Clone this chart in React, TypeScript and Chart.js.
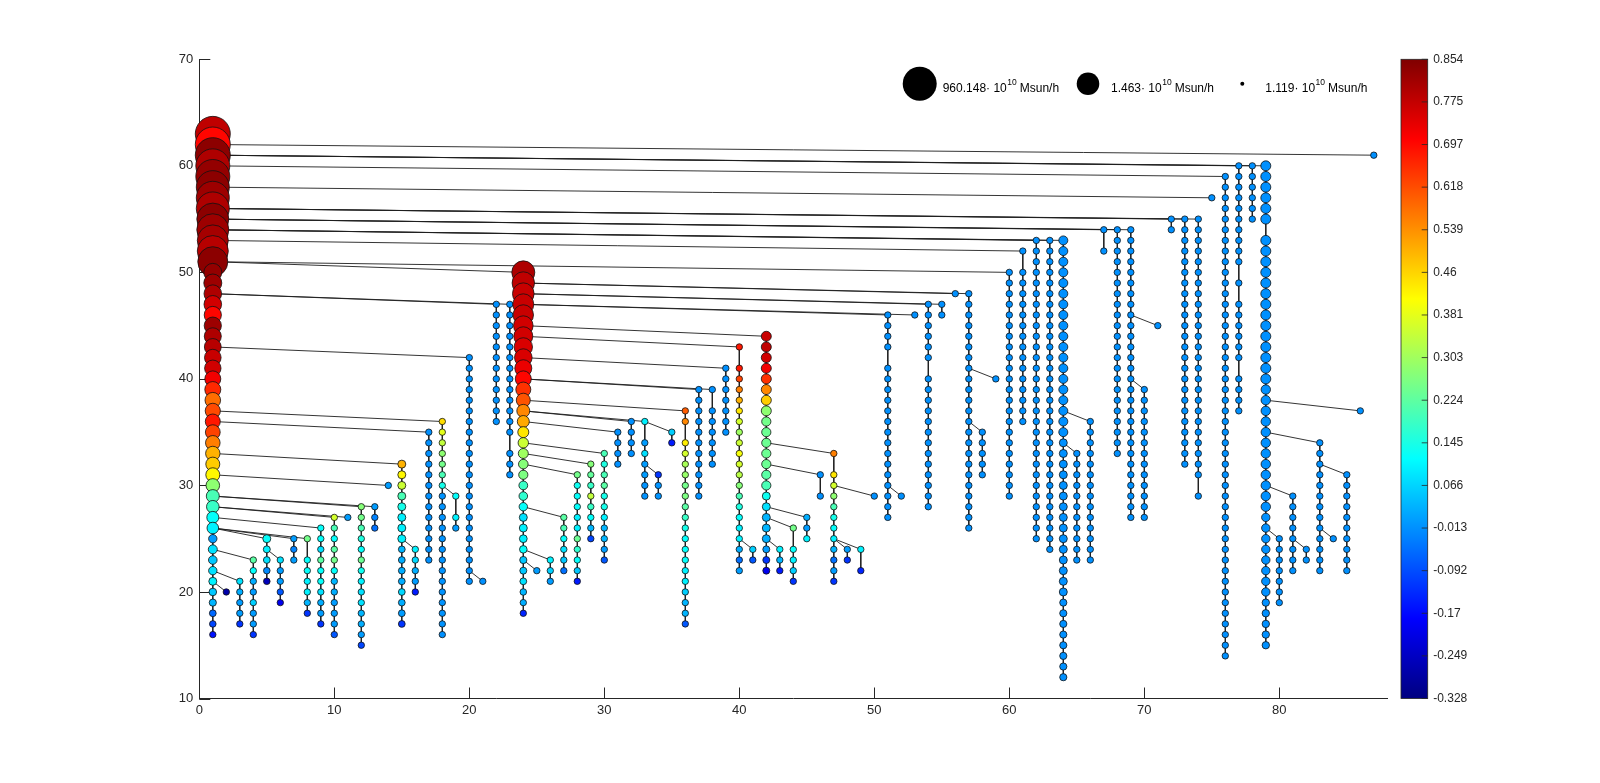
import React, { useEffect, useRef } from 'react';
import { Chart, registerables } from 'chart.js';

Chart.register(...registerables);

// ---------------- DATA ----------------
// Each branch of the merger tree sits in its own column (branch index on x),
// nodes are snapshots (y). Each branch merges into its descendant branch at top+1.
const branchX = [
  1, 2, 3, 4, 5, 6, 7, 8, 9, 10, 11, 12, 13, 14, 15, 16, 17, 18, 19, 20,
  21, 22, 23, 24, 25, 26, 27, 28, 29, 30, 31, 32, 33, 34, 35, 36, 37, 38, 39, 40,
  41, 42, 43, 44, 45, 46, 47, 48, 49, 50, 51, 52, 53, 54, 55, 56, 57, 58, 59, 60,
  61, 62, 63, 64, 65, 66, 67, 68, 69, 70, 71, 72, 73, 74, 75, 76, 77, 78, 79, 80,
  81, 82, 83, 84, 85, 86, 87,
];
const branchTop = [
  63, 20, 21, 23, 25, 23, 25, 25, 26, 27, 27, 28, 28, 30, 32, 24, 35, 36, 29, 42,
  21, 47, 47, 50, 22, 23, 27, 31, 32, 33, 35, 36, 36, 31, 35, 37, 39, 39, 41, 43,
  24, 44, 24, 26, 27, 31, 33, 24, 24, 29, 46, 29, 46, 47, 47, 48, 48, 35, 40, 50,
  52, 53, 53, 53, 33, 36, 54, 54, 54, 39, 45, 55, 55, 55, 57, 59, 60, 60, 60, 25,
  29, 24, 34, 25, 31, 37, 61,
];
const branchBottom = [
  16, 20, 17, 16, 21, 19, 23, 18, 17, 16, 27, 15, 26, 30, 17, 20, 23, 16, 26, 21,
  21, 36, 31, 18, 22, 21, 22, 21, 25, 23, 32, 33, 29, 29, 34, 17, 29, 32, 35, 22,
  23, 22, 22, 21, 25, 29, 21, 23, 22, 29, 27, 29, 46, 28, 46, 48, 26, 31, 40, 29,
  36, 25, 24, 12, 23, 23, 52, 33, 27, 27, 45, 54, 32, 29, 57, 14, 37, 55, 15, 19,
  22, 23, 22, 25, 22, 37, 61,
];
// descendant branch (the column it merges into, at snapshot top+1); 0 = root
const descBranch = [
  0, 1, 1, 1, 1, 5, 1, 1, 1, 1, 1, 1, 1, 1, 1, 15, 1, 1, 18, 1,
  20, 1, 1, 1, 24, 24, 24, 24, 24, 24, 24, 24, 24, 33, 33, 24, 24, 24, 24, 24,
  40, 24, 42, 42, 42, 42, 42, 47, 47, 47, 24, 51, 24, 24, 24, 24, 24, 57, 57, 1,
  1, 1, 1, 1, 64, 64, 1, 1, 1, 69, 69, 1, 1, 1, 1, 1, 1, 1, 1, 79,
  79, 81, 79, 83, 83, 79, 1,
];
// missing snapshots inside a branch
const gapBranch = [8, 19, 23, 33, 36, 38, 40, 44, 46, 47, 49, 51, 54, 61, 67, 74, 77, 77, 77, 79];
const gapSnap = [24, 28, 34, 35, 35, 38, 42, 25, 30, 32, 23, 42, 41, 51, 53, 30, 50, 48, 41, 54];

// colour values per node (top to bottom) for the coloured branches
const coloredBranch = [1, 2, 3, 4, 5, 6, 7, 8, 9, 10, 11, 12, 13, 14, 15, 16, 18, 19, 24, 25, 26, 27, 28, 29, 30, 33, 34, 35, 36, 40, 41, 42, 43, 44, 45, 47, 48, 49];
const coloredValues: number[][] = [
  [0.78, 0.70, 0.84, 0.80, 0.83, 0.84, 0.82, 0.80, 0.84, 0.82, 0.81, 0.79, 0.84,
   0.83, 0.82, 0.80, 0.76, 0.70, 0.82, 0.80, 0.79, 0.77, 0.76, 0.72, 0.66, 0.58, 0.62, 0.68, 0.63, 0.56, 0.50, 0.47, 0.42,
   0.28, 0.20, 0.18, 0.12, 0.10, 0.00, 0.08, 0.05, 0.08, 0.10, 0.05, 0.03, -0.06, -0.10, -0.16],
  [-0.28],
  [0.08, 0.02, 0.0, 0.0, -0.12],
  [0.22, 0.12, 0.02, 0.0, 0.06, 0.0, 0.0, -0.12],
  [0.12, 0.10, 0.08, -0.02, -0.26],
  [0.08, 0.0, 0.0, -0.08, -0.20],
  [0.0, -0.03, 0.0],
  [0.25, 0.12, 0.12, 0.10, 0.10, 0.03, -0.12],
  [0.12, 0.12, 0.08, 0.22, 0.12, 0.12, 0.08, 0.02, 0.0, -0.12],
  [0.36, 0.20, 0.12, 0.22, 0.25, 0.12, 0.03, 0.02, 0.0, 0.0, 0.0, -0.08],
  [0.0],
  [0.27, 0.25, 0.20, 0.15, 0.12, 0.24, 0.13, 0.10, 0.08, 0.08, 0.03, 0.02, 0.0, -0.10],
  [0.0, -0.03, -0.05],
  [0.0],
  [0.50, 0.42, 0.35, 0.20, 0.14, 0.10, 0.10, 0.10, 0.03, 0.02, 0.02, 0.02, 0.07, 0.02, 0.0, -0.12],
  [0.10, 0.07, 0.02, 0.0, -0.15],
  [0.45, 0.38, 0.34, 0.28, 0.25, 0.20, 0.14, -0.01, -0.01, -0.01, -0.01, -0.01, -0.01, -0.01, -0.01, -0.01, -0.01, -0.01, -0.01, -0.01],
  [0.12, 0.10, 0.0],
  [0.80, 0.78, 0.77, 0.77, 0.77, 0.76, 0.76, 0.75, 0.75, 0.73, 0.70, 0.65, 0.61, 0.55, 0.51, 0.44, 0.35, 0.30,
   0.27, 0.26, 0.18, 0.17, 0.12, 0.08, 0.10, 0.10, 0.12, 0.05, 0.05, 0.08, 0.03, 0.02, -0.14],
  [0.0],
  [0.10, 0.06, 0.0],
  [0.22, 0.20, 0.12, 0.08, 0.05, -0.05],
  [0.25, 0.13, 0.12, 0.12, 0.10, 0.10, 0.24, 0.17, 0.12, 0.05, -0.15],
  [0.27, 0.23, 0.18, 0.34, 0.18, 0.12, 0.03, -0.10],
  [0.20, 0.15, 0.20, 0.22, 0.14, 0.14, 0.10, 0.03, 0.03, 0.0, -0.08],
  [0.10, 0.0, 0.08, 0.0, 0.0, -0.01, -0.01],
  [-0.12, -0.01, -0.01],
  [0.06, -0.15],
  [0.60, 0.55, 0.43, 0.36, 0.31, 0.29, 0.25, 0.26, 0.22, 0.18, 0.14, 0.12, 0.12, 0.12, 0.10, 0.10, 0.06, 0.03, 0.03, -0.08],
  [0.68, 0.68, 0.63, 0.56, 0.50, 0.44, 0.36, 0.30, 0.35, 0.40, 0.36, 0.33, 0.27, 0.20, 0.15, 0.12, 0.10, 0.10, 0.02, -0.05, 0.0],
  [0.06, -0.08],
  [0.77, 0.78, 0.76, 0.72, 0.65, 0.55, 0.47, 0.28, 0.25, 0.24, 0.24, 0.24, 0.24, 0.22, 0.20, 0.13, 0.08, 0.03, 0.03, 0.02, 0.0, -0.12, -0.20],
  [0.10, 0.03, -0.15],
  [0.25, 0.12, 0.10, 0.06, -0.12],
  [0.02, 0.0, 0.10],
  [0.56, 0.44, 0.36, 0.28, 0.20, 0.14, 0.12, 0.10, 0.03, -0.05, 0.0, -0.12],
  [0.0, -0.12],
  [0.10, -0.14],
];
const defaultValue = -0.013;

// bubble radius per node (top to bottom) for the massive branches
const sizedBranch = [1, 5, 15, 24, 42, 64, 79];
const sizedValues: number[][] = [
  [17.5, 17.5, 17.5, 17, 17, 16.5, 16.5, 16.5, 16, 16, 15.5, 15.5, 15,
   9, 9, 8.8, 8.8, 8.6, 8.6, 8.5, 8.4, 8.3, 8.2, 8, 8, 7.8, 7.6, 7.5, 7.4, 7.3, 7.2, 7, 7,
   6.8, 6.5, 6.3, 6, 5.8, 4.2, 4.5, 4.3, 4.2, 4, 3.8, 3.6, 3.4, 3.3, 3.2],
  [4, 3.5, 3.4, 3.3, 3.3],
  [4, 4, 4, 4, 4, 4, 4, 4, 3.4, 3.4, 3.4, 3.4, 3.4, 3.4, 3.4, 3.4],
  [11.5, 11.2, 10.8, 10.5, 10.2, 9.8, 9.5, 9.2, 8.8, 8.5, 8, 7.5, 7, 6.5, 6, 5.5, 5.2, 5,
   4.8, 4.6, 4.4, 4.3, 4.2, 4, 4, 3.9, 3.8, 3.6, 3.5, 3.4, 3.3, 3.2, 3.2],
  [5, 5, 5, 5, 5, 5, 5, 5, 4.6, 4.6, 4.6, 4.6, 4.6, 4.6, 4.6, 4, 4, 4, 4, 4, 3.5, 3.5, 3.5],
  [4.5, 4.5, 4.5, 4.5, 4.5, 4.5, 4.5, 4.5, 4.5, 4.5, 4.5, 4.5, 4.5, 4.5, 4.5, 4.5, 4.5, 4.5, 4.5,
   4, 4, 4, 4, 4, 4, 4, 4, 4, 4, 4, 4, 4, 4, 4, 3.6, 3.6, 3.6, 3.6, 3.6, 3.6, 3.6, 3.6],
  [5, 5, 5, 5, 5, 5, 5, 5, 5, 5, 5, 5, 5, 5, 5, 5, 5, 5, 5, 5,
   4.7, 4.7, 4.7, 4.7, 4.7, 4.7, 4.7, 4.7, 4.7, 4.7, 4.7, 4.7,
   4.2, 4.2, 4.2, 4.2, 4.2, 4.2, 4.2, 4.2, 3.7, 3.7, 3.7, 3.7, 3.7],
];
const defaultSize = 3.2;

const xTicks = [0, 10, 20, 30, 40, 50, 60, 70, 80];
const yTicks = [10, 20, 30, 40, 50, 60, 70];
const colorbarLabels = ['0.854', '0.775', '0.697', '0.618', '0.539', '0.46', '0.381', '0.303', '0.224', '0.145', '0.066', '-0.013', '-0.092', '-0.17', '-0.249', '-0.328'];
const colorMin = -0.328;
const colorMax = 0.854;
const legendMass = ['960.148', '1.463', '1.119'];
const legendUnit = 'Msun/h';

// ---------------- STYLE / LAYOUT ----------------
const W = 1600;
const H = 783;
const AREA = { left: 199.3, right: 1387.3, top: 59.3, bottom: 698.5 };
const CB = { left: 1401, right: 1427.7 };
const LEG = { cy: 83.7, cx: [919.7, 1088, 1242.3], r: [17, 11.3, 2] };
const FONT = "'Liberation Sans', Arial, Helvetica, sans-serif";
const AXIS_COLOR = '#262626';

function jet(v: number): string {
  const t = Math.min(1, Math.max(0, (v - colorMin) / (colorMax - colorMin)));
  const c = (x: number) => Math.round(255 * Math.min(1, Math.max(0, x)));
  return `rgb(${c(1.5 - Math.abs(4 * t - 3))},${c(1.5 - Math.abs(4 * t - 2))},${c(1.5 - Math.abs(4 * t - 1))})`;
}

function branchSnaps(i: number): number[] {
  const bx = branchX[i];
  const ys: number[] = [];
  for (let y = branchTop[i]; y >= branchBottom[i]; y--) {
    let gap = false;
    for (let g = 0; g < gapBranch.length; g++) if (gapBranch[g] === bx && gapSnap[g] === y) gap = true;
    if (!gap) ys.push(y);
  }
  return ys;
}

const decorPlugin = {
  id: 'decor',
  beforeDatasetsDraw(chart: any) {
    const ctx = chart.ctx;
    const xs = chart.scales.x;
    const ys = chart.scales.y;
    const a = chart.chartArea;
    ctx.save();
    ctx.strokeStyle = AXIS_COLOR;
    ctx.lineWidth = 1;
    ctx.beginPath();
    xTicks.forEach((v) => {
      const px = Math.round(xs.getPixelForValue(v)) + 0.5;
      ctx.moveTo(px, a.bottom);
      ctx.lineTo(px, a.bottom - 11);
    });
    yTicks.forEach((v) => {
      const py = Math.round(ys.getPixelForValue(v)) + 0.5;
      ctx.moveTo(a.left, py);
      ctx.lineTo(a.left + 11, py);
    });
    ctx.stroke();
    ctx.restore();
  },
  afterDraw(chart: any) {
    const ctx = chart.ctx;
    const a = chart.chartArea;
    ctx.save();
    // colorbar
    const top = a.top;
    const bot = a.bottom;
    const grad = ctx.createLinearGradient(0, bot, 0, top);
    const n = 64;
    for (let k = 0; k <= n; k++) {
      const v = colorMin + (colorMax - colorMin) * (k / n);
      grad.addColorStop(k / n, jet(v));
    }
    ctx.fillStyle = grad;
    ctx.fillRect(CB.left, top, CB.right - CB.left, bot - top);
    ctx.strokeStyle = AXIS_COLOR;
    ctx.lineWidth = 0.8;
    ctx.strokeRect(CB.left, top, CB.right - CB.left, bot - top);
    ctx.fillStyle = AXIS_COLOR;
    ctx.font = `12px ${FONT}`;
    ctx.textAlign = 'left';
    ctx.textBaseline = 'middle';
    const nL = colorbarLabels.length;
    ctx.beginPath();
    colorbarLabels.forEach((lab, i) => {
      const py = top + (bot - top) * (i / (nL - 1));
      ctx.moveTo(CB.right, py);
      ctx.lineTo(CB.right - 6, py);
      ctx.fillText(lab, CB.right + 5.5, py);
    });
    ctx.stroke();

    // size legend
    legendMass.forEach((m, i) => {
      const cx = LEG.cx[i];
      ctx.fillStyle = '#000';
      ctx.beginPath();
      ctx.arc(cx, LEG.cy, LEG.r[i], 0, Math.PI * 2);
      ctx.fill();
      const x0 = cx + 23;
      ctx.textBaseline = 'alphabetic';
      ctx.fillStyle = '#000';
      ctx.font = `12px ${FONT}`;
      const s1 = `${m}\u00b7 10`;
      ctx.fillText(s1, x0, 91.8);
      const w1 = ctx.measureText(s1).width;
      ctx.font = `8.5px ${FONT}`;
      ctx.fillText('10', x0 + w1 + 0.5, 84.5);
      const w2 = ctx.measureText('10').width;
      ctx.font = `12px ${FONT}`;
      ctx.fillText(legendUnit, x0 + w1 + w2 + 3.5, 91.8);
    });
    ctx.restore();
  },
};

export default function App() {
  const ref = useRef<HTMLCanvasElement | null>(null);

  useEffect(() => {
    const canvas = ref.current;
    if (!canvas) return;

    const nodes: { x: number; y: number; r: number }[] = [];
    const nodeColors: string[] = [];
    const lineSets: any[] = [];

    branchX.forEach((bx, i) => {
      const ys = branchSnaps(i);
      const ci = coloredBranch.indexOf(bx);
      const si = sizedBranch.indexOf(bx);
      ys.forEach((y, k) => {
        const v = ci >= 0 && coloredValues[ci][k] !== undefined ? coloredValues[ci][k] : defaultValue;
        const r = si >= 0 && sizedValues[si][k] !== undefined ? sizedValues[si][k] : defaultSize;
        nodes.push({ x: bx, y, r });
        nodeColors.push(jet(v));
      });
      const pts: { x: number; y: number }[] = [];
      const d = descBranch[i];
      if (d > 0) pts.push({ x: d, y: branchTop[i] + 1 });
      ys.forEach((y) => pts.push({ x: bx, y }));
      lineSets.push({
        type: 'scatter',
        data: pts,
        showLine: true,
        pointRadius: 0,
        pointHoverRadius: 0,
        borderColor: '#1e1e1e',
        borderWidth: 0.9,
        order: 1,
        clip: false,
      });
    });

    const chart = new Chart(canvas, {
      type: 'scatter',
      data: {
        datasets: [
          {
            type: 'bubble',
            data: nodes,
            backgroundColor: nodeColors,
            borderColor: '#111',
            borderWidth: 0.8,
            hoverRadius: 0,
            order: 0,
            clip: false,
          } as any,
          ...lineSets,
        ],
      },
      options: {
        responsive: false,
        animation: false,
        devicePixelRatio: 1,
        events: [],
        layout: { padding: { left: 0, top: AREA.top, right: W - AREA.right, bottom: 0 } },
        plugins: { legend: { display: false }, tooltip: { enabled: false } },
        scales: {
          x: {
            type: 'linear',
            min: 0,
            max: 88,
            afterBuildTicks: (s: any) => { s.ticks = xTicks.map((v) => ({ value: v })); },
            afterFit: (s: any) => { s.height = H - AREA.bottom; },
            grid: { display: false, drawTicks: false },
            border: { display: true, color: AXIS_COLOR, width: 1 },
            ticks: { color: AXIS_COLOR, font: { family: FONT, size: 13 }, padding: 4, maxRotation: 0, autoSkip: false },
          },
          y: {
            type: 'linear',
            min: 10,
            max: 70,
            afterBuildTicks: (s: any) => { s.ticks = yTicks.map((v) => ({ value: v })); },
            afterFit: (s: any) => { s.width = AREA.left; },
            grid: { display: false, drawTicks: false },
            border: { display: true, color: AXIS_COLOR, width: 1 },
            ticks: { color: AXIS_COLOR, font: { family: FONT, size: 13 }, padding: 6, autoSkip: false },
          },
        },
      } as any,
      plugins: [decorPlugin],
    });
    return () => chart.destroy();
  }, []);

  return (
    <div style={{ position: 'absolute', left: 0, top: 0, width: W, height: H, background: '#fff' }}>
      <canvas ref={ref} width={W} height={H} style={{ width: W, height: H, display: 'block' }} />
    </div>
  );
}
